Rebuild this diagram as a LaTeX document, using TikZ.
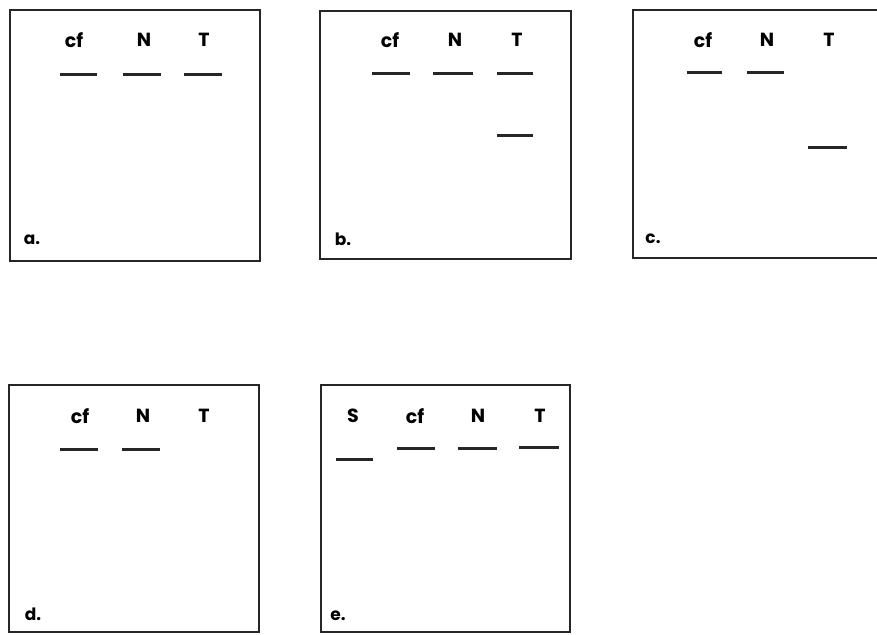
\documentclass[tikz,border=0pt]{standalone}
\usepackage{fontspec}
\setmainfont{Poppins}
\begin{document}
\begin{tikzpicture}[x=1pt,y=-1pt,
  panel/.style={draw=black!85,line width=2.2pt},
  lane/.style={font=\fontsize{19}{22}\selectfont\bfseries,inner sep=0pt},
  tag/.style={font=\fontsize{17}{20}\selectfont\bfseries,inner sep=0pt},
  band/.style={draw=black!85,line width=3pt}]
\useasboundingbox (0,0) rectangle (877,634);
% panel a
\draw[panel] (10,10) rectangle (260,261);
\node[lane] (acf) at (74,40) {cf};
\node[lane] (aN) at (144,40) {N};
\node[lane] (aT) at (204,40) {T};
\draw[band] (60,74) -- (97,74);
\draw[band] (123,74) -- (161,74);
\draw[band] (184,74) -- (222,74);
\node[tag] (alab) at (32,240) {a.};
% panel b
\draw[panel] (320,11) rectangle (571,259);
\node[lane] (bcf) at (390,40) {cf};
\node[lane] (bN) at (455,40) {N};
\node[lane] (bT) at (517,40) {T};
\draw[band] (372,73) -- (410,73);
\draw[band] (433,73) -- (473,73);
\draw[band] (497,73) -- (533,73);
\draw[band] (497,135) -- (533,135);
\node[tag] (blab) at (343,239) {b.};
% panel c (cut at right edge)
\draw[panel] (880,10) -- (633,10) -- (633,258) -- (880,258);
\node[lane] (ccf) at (703,40) {cf};
\node[lane] (cN) at (767,40) {N};
\node[lane] (cT) at (829,40) {T};
\draw[band] (687,72) -- (722,72);
\draw[band] (747,72) -- (784,72);
\draw[band] (808,147) -- (847,147);
\node[tag] (clab) at (653,239) {c.};
% panel d
\draw[panel] (9,385) rectangle (259,632);
\node[lane] (dcf) at (80,416) {cf};
\node[lane] (dN) at (143,416) {N};
\node[lane] (dT) at (204,416) {T};
\draw[band] (60,449) -- (98,449);
\draw[band] (122,449) -- (160,449);
\node[tag] (dlab) at (33,614) {d.};
% panel e
\draw[panel] (321,385) rectangle (570,632);
\node[lane] (eS) at (353,416) {S};
\node[lane] (ecf) at (415,416) {cf};
\node[lane] (eN) at (478,416) {N};
\node[lane] (eT) at (540,416) {T};
\draw[band] (336,459) -- (373,459);
\draw[band] (397,448) -- (435,448);
\draw[band] (458,448) -- (497,448);
\draw[band] (519,447) -- (559,447);
\node[tag] (elab) at (338,616) {e.};
\end{tikzpicture}
\end{document}
